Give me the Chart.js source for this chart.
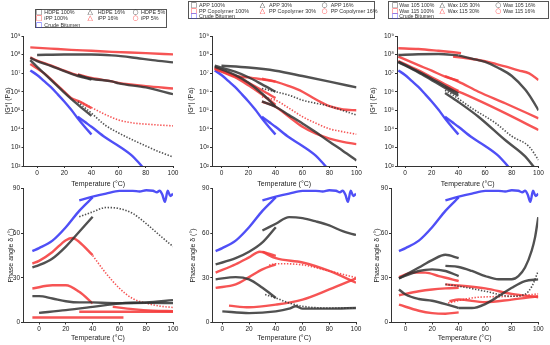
<!DOCTYPE html>
<html>
<head>
<meta charset="utf-8">
<script src="https://cdn.jsdelivr.net/npm/chart.js@4.4.0/dist/chart.umd.min.js"></script>
<style>
  body { margin: 0; background: #fff; }
  #wrap { position: relative; width: 550px; height: 345px; overflow: hidden; font-family: "Liberation Sans", Arial, sans-serif; }
  #wrap canvas { position: absolute; left: 0; top: 0; }
  .legend { position: absolute; border: 1px solid #555; box-sizing: border-box; background: #fff; }
  .legend span { position: absolute; white-space: nowrap; color: #333; }
  .legend .mk { font-family: "DejaVu Sans", sans-serif; }
</style>
</head>
<body>
<div id="wrap"></div>
<script>
// ---- tick labels / legend labels ----
const tempTicks = [0, 20, 40, 60, 80, 100];
const modulusTicks = [1e2, 1e3, 1e4, 1e5, 1e6, 1e7, 1e8, 1e9];
const phaseTicks = [0, 30, 60, 90];

const legendHdpe = ['HDPE 100%', 'HDPE 16%', 'HDPE 5%', 'iPP 100%', 'iPP 16%', 'iPP 5%', 'Crude Bitumen'];
const legendApp = ['APP 100%', 'APP 30%', 'APP 16%', 'PP Copolymer 100%', 'PP Copolymer 30%', 'PP Copolymer 16%', 'Crude Bitumen'];
const legendWax = ['Wax 105 100%', 'Wax 105 30%', 'Wax 105 16%', 'Wax 115 100%', 'Wax 115 30%', 'Wax 115 16%', 'Crude Bitumen'];

// ---- crude bitumen (same in every panel) : [temperature, value] ----
const crudeGLow = [[-5, 1.4e7], [0, 8e6], [5, 3.8e6], [10, 1.8e6], [15, 7.5e5], [20, 3e5], [25, 1.1e5], [30, 3.6e4], [35, 1.3e4], [40, 5e3]];
const crudeGHigh = [[30, 4.5e4], [35, 2.4e4], [40, 1.3e4], [50, 3.5e3], [60, 1.2e3], [70, 350], [77, 100], [80, 60]];
const crudeDLow = [[-5, 48], [0, 50], [10, 55], [20, 64], [30, 75], [40, 84]];
const crudeDHigh = [[30, 82], [40, 84.5], [50, 86.6], [60, 88.4], [70, 88.4], [75, 88], [80, 88.8], [85, 88.5], [88, 87.5], [90, 88.5], [92, 86], [94, 81], [96, 88.5], [98, 85], [100, 86.5]];

// ---- |G*| HDPE / iPP ----
const hdpe100G = [[0, 9.5e7], [20, 1e8], [40, 1e8], [55, 9e7], [70, 7e7], [85, 5e7], [100, 3.8e7]];
const ipp100G = [[-5, 2.45e8], [10, 2.1e8], [25, 1.8e8], [40, 1.6e8], [55, 1.4e8], [80, 1.2e8], [100, 1.02e8]];
const hdpe16GLow = [[-5, 6.6e7], [0, 4.5e7], [10, 2.5e7], [20, 1.3e7], [30, 7e6], [40, 4.5e6]];
const hdpe16GHigh = [[30, 8e6], [40, 5e6], [55, 3.6e6], [60, 2.8e6], [80, 1.7e6], [100, 7.4e5]];
const ipp16GLow = [[-5, 7e7], [0, 4.8e7], [10, 2.6e7], [20, 1.35e7], [30, 7.5e6], [40, 5e6]];
const ipp16GHigh = [[30, 8.5e6], [40, 5.5e6], [55, 3.6e6], [60, 3e6], [80, 2e6], [100, 1.5e6]];
const hdpe5GLow = [[-5, 5e7], [0, 2.2e7], [5, 1e7], [10, 4.5e6], [20, 9e5], [30, 2e5], [40, 5e4]];
const hdpe5GHigh = [[30, 2.8e5], [40, 7e4], [50, 1.6e4], [60, 6e3], [70, 2.6e3], [80, 1.2e3], [90, 575], [100, 310]];
const ipp5GLow = [[-5, 3.1e7], [5, 1e7], [13, 3e6], [20, 1e6], [25, 4.6e5], [31, 3e5], [40, 1.3e5]];
const ipp5GHigh = [[30, 3.2e5], [40, 1.4e5], [50, 6e4], [60, 3e4], [70, 2.1e4], [80, 1.8e4], [90, 1.6e4], [100, 1.45e4]];

// ---- |G*| APP / PP copolymer ----
const app100G = [[0, 2.5e7], [20, 2e7], [40, 1.35e7], [60, 7e6], [80, 3.5e6], [100, 1.7e6]];
const app30GLow = [[-5, 2.5e7], [10, 1.2e7], [20, 6e6], [30, 2.5e6], [40, 1e6]];
const app30GHigh = [[30, 1.5e6], [40, 1e6], [50, 6.5e5], [60, 3.5e5], [80, 1.66e5], [100, 5.5e4]];
const app16GLow = [[-5, 2.2e7], [10, 8e6], [20, 3e6], [30, 8e5], [40, 1.6e5]];
const app16GHigh = [[30, 3e5], [40, 1.55e5], [50, 5.5e4], [60, 1.95e4], [70, 6.5e3], [80, 2e3], [90, 650], [100, 200]];
const ppc100GLow = [[-5, 1.8e7], [0, 1.3e7], [10, 7e6], [20, 5.9e6], [30, 4.6e6], [40, 3.5e6]];
const ppc100GHigh = [[30, 5e6], [40, 3.5e6], [50, 2e6], [60, 1e6], [70, 3.8e5], [80, 1.66e5], [90, 1.1e5], [100, 1e5]];
const ppc30GLow = [[-5, 2e7], [10, 7e6], [20, 3e6], [30, 1.2e6], [40, 4.5e5]];
const ppc30GHigh = [[30, 5.4e5], [40, 3.5e5], [50, 1.3e5], [60, 4.5e4], [70, 2e4], [80, 1e4], [90, 7e3], [100, 5.1e3]];
const ppc16GLow = [[-5, 1.7e7], [10, 6e6], [20, 2.2e6], [30, 7e5], [40, 2e5]];
const ppc16GHigh = [[30, 2.9e5], [40, 1.55e5], [50, 4.5e4], [60, 1.3e4], [70, 5.5e3], [80, 3e3], [90, 2e3], [100, 1.5e3]];

// ---- |G*| waxes ----
const wax115x100GLow = [[-5, 2.2e8], [10, 2e8], [25, 1.6e8], [42, 1.2e8]];
const wax115x100GHigh = [[36, 7.8e7], [45, 6.5e7], [55, 5.1e7], [65, 3.6e7], [75, 2.3e7], [85, 1.4e7], [93, 9.8e6], [100, 4.3e6]];
const wax105x100GLow = [[-5, 9.5e7], [10, 1.05e8], [25, 1.07e8], [40, 9e7]];
const wax105x100GHigh = [[40, 9e7], [50, 6e7], [60, 4e7], [70, 1.9e7], [80, 7e6], [90, 1.3e6], [95, 4e5], [100, 1e5]];
const wax115x30GLow = [[-5, 7.8e7], [10, 2.7e7], [20, 1.35e7], [30, 6.5e6], [40, 4e6]];
const wax115x30GHigh = [[30, 7e6], [40, 3.5e6], [55, 1e6], [75, 2.4e5], [100, 3.7e4]];
const wax115x16GLow = [[-5, 4.5e7], [10, 1.4e7], [20, 6e6], [30, 2.5e6], [40, 1.1e6]];
const wax115x16GHigh = [[30, 1.8e6], [40, 1e6], [55, 3.4e5], [75, 7e4], [100, 8.7e3]];
const wax105x30GLow = [[-5, 4.2e7], [10, 1.2e7], [20, 5e6], [30, 2e6], [40, 8e5]];
const wax105x30GHigh = [[30, 1.2e6], [36, 6.6e5], [50, 1.3e5], [68, 2e4], [80, 4e3], [93, 1.1e3], [100, 210]];
const wax105x16GLow = [[-5, 3.9e7], [10, 1.1e7], [20, 4.2e6], [30, 1.6e6], [40, 6e5]];
const wax105x16GHigh = [[30, 8.5e5], [40, 2.8e5], [55, 4.5e4], [75, 2.5e3], [90, 330], [96, 100], [100, 50]];

// ---- phase angle HDPE / iPP ----
const hdpe5DLow = [[-5, 37], [0, 38.5], [10, 43], [20, 51], [30, 61], [40, 71]];
const hdpe5DHigh = [[30, 71], [40, 74.3], [50, 77.2], [60, 76.5], [70, 73.2], [80, 66.4], [90, 58.6], [100, 51]];
const ipp5DLow = [[-5, 39.6], [0, 41.4], [10, 47.4], [20, 55.3], [25, 56.8], [30, 54.1], [40, 45.2]];
const ipp5DHigh = [[40, 45], [50, 33], [60, 23], [70, 16], [80, 13], [90, 11], [100, 10.1]];
const ipp16DLow = [[-5, 22.8], [10, 25], [20, 25], [30, 20.6], [40, 12.8]];
const ipp16DHigh = [[55, 10.5], [70, 9], [85, 8], [100, 7.6]];
const hdpe16DLow = [[-5, 17.7], [0, 17.7], [10, 16.1], [20, 14.3], [30, 13.5], [40, 13.5]];
const hdpe16DHigh = [[40, 13.5], [60, 13], [80, 13.2], [100, 13]];
const hdpe100D = [[0, 6.5], [20, 8.3], [40, 10.5], [60, 12.8], [80, 13.5], [100, 15]];
const ipp100DLow = [[-5, 3.4], [20, 3.4], [40, 3.4], [63, 3.4]];
const ipp100DHigh = [[30, 7.2], [60, 7.2], [100, 7.2]];

// ---- phase angle APP / PP copolymer ----
const app16DLow = [[-5, 39], [10, 43.2], [20, 47.5], [30, 53.8], [40, 64]];
const app16DHigh = [[30, 61.8], [40, 66.3], [50, 70.8], [60, 70.1], [70, 67.9], [80, 65.2], [90, 61.3], [100, 58.8]];
const app30DLow = [[-5, 29], [10, 30.5], [20, 29], [30, 23.3], [40, 16.5]];
const app30DHigh = [[32, 18.8], [40, 16.5], [50, 13.1], [60, 10.9], [80, 9.7], [100, 9.7]];
const app100D = [[0, 7.5], [20, 6.3], [40, 7.5], [50, 9.3], [55, 10.9], [60, 9.3], [80, 9.3], [100, 9.7]];
const ppc16DLow = [[-5, 33.5], [10, 39.1], [20, 43.7], [28, 47.5], [40, 44.8]];
const ppc16DHigh = [[30, 47.5], [40, 43.2], [60, 40.3], [80, 34.6], [100, 26.7]];
const ppc30DLow = [[-5, 23.3], [10, 25.6], [20, 30.5], [30, 35.7], [40, 39.1]];
const ppc30DHigh = [[35, 38.5], [40, 39.5], [60, 38.7], [80, 34.6], [100, 30.1]];
const ppc100D = [[5, 11.3], [20, 10.2], [40, 12], [60, 15.4], [80, 22.2], [100, 29.6]];

// ---- phase angle waxes ----
const wax105x16DLow = [[-5, 29.6], [10, 36.9], [20, 41.9], [30, 45.5], [40, 43.2]];
const wax105x16DHigh = [[30, 38], [40, 37.3], [50, 34.6], [60, 31.2], [70, 29], [80, 29], [85, 31.2], [90, 36.9], [95, 48.2], [97.5, 57], [100, 70.8]];
const wax105x30DLow = [[-5, 29.6], [10, 34.6], [20, 35.7], [30, 34.6], [40, 31.2]];
const wax105x30DHigh = [[30, 25.6], [40, 24.4], [60, 21], [80, 17.6], [90, 19], [95, 24], [100, 34.6]];
const wax105x100DLow = [[-5, 22.2], [0, 18.8], [10, 15.8], [20, 14.6], [30, 12.4], [40, 9.7]];
const wax105x100DHigh = [[40, 9.7], [50, 9.7], [60, 12.4], [70, 17.6], [80, 23.3], [90, 27.8], [100, 29]];
const wax115x16DLow = [[-5, 30.5], [5, 33.5], [15, 33.5], [25, 31.2], [35, 29], [40, 27.8]];
const wax115x16DHigh = [[30, 25.6], [60, 22.9], [80, 19.2], [100, 17]];
const wax115x30DLow = [[-5, 18.3], [10, 21], [20, 22.2], [30, 22.9], [40, 23.3]];
const wax115x30DHigh = [[32, 13.1], [50, 16.5], [60, 17.2], [80, 17.6], [100, 19.2]];
const wax115x100DLow = [[-5, 12], [10, 7.9], [20, 6.3], [30, 5.9], [40, 6.8]];
const wax115x100DHigh = [[33, 14.3], [40, 15.4], [60, 13.6], [80, 15.4], [100, 17.6]];

// ---- styling ----
const BLACK = 'rgba(50,50,50,0.85)';
const RED = 'rgba(245,60,60,0.88)';
const BLUE = 'rgba(60,60,245,0.9)';
const AXIS = '#333';
const TXT = '#222';
Chart.defaults.font.family = '"Liberation Sans", Arial, sans-serif';

const sup = { '0': '⁰', '1': '¹', '2': '²', '3': '³', '4': '⁴', '5': '⁵', '6': '⁶', '7': '⁷', '8': '⁸', '9': '⁹' };
function powLabel(v) {
  const n = Math.round(Math.log10(v));
  return '10' + String(n).split('').map(c => sup[c]).join('');
}

function ds(arr, color, dotted) {
  return {
    data: arr.map(p => ({ x: p[0], y: p[1] })),
    borderColor: color,
    borderWidth: dotted ? 1.6 : 2.4,
    borderDash: dotted ? [1.4, 1.6] : [],
    pointRadius: 0,
    cubicInterpolationMode: 'monotone',
    fill: false
  };
}

const S = 0, D = 1; // solid / dotted
const panels = [
  { box: { L: 23.5, R: 173, T: 36, B: 166 }, xMin: -10, yW: 20, xH: 22, kind: 'G', series: [
    [hdpe100G, BLACK, S], [hdpe16GLow, BLACK, S], [hdpe16GHigh, BLACK, S], [hdpe5GLow, BLACK, S], [hdpe5GHigh, BLACK, D],
    [ipp100G, RED, S], [ipp16GLow, RED, S], [ipp16GHigh, RED, S], [ipp5GLow, RED, S], [ipp5GHigh, RED, D],
    [crudeGLow, BLUE, S], [crudeGHigh, BLUE, S]] },
  { box: { L: 212, R: 356.5, T: 36, B: 166 }, xMin: -7, yW: 25, xH: 22, kind: 'G', series: [
    [app100G, BLACK, S], [app30GLow, BLACK, S], [app30GHigh, BLACK, D], [app16GLow, BLACK, S], [app16GHigh, BLACK, S],
    [ppc100GLow, RED, S], [ppc100GHigh, RED, S], [ppc30GLow, RED, S], [ppc30GHigh, RED, D], [ppc16GLow, RED, S], [ppc16GHigh, RED, S],
    [crudeGLow, BLUE, S], [crudeGHigh, BLUE, S]] },
  { box: { L: 397, R: 538.5, T: 36, B: 166 }, xMin: -6, yW: 28, xH: 22, kind: 'G', series: [
    [wax105x100GLow, BLACK, S], [wax105x100GHigh, BLACK, S], [wax105x30GLow, BLACK, S], [wax105x30GHigh, BLACK, D], [wax105x16GLow, BLACK, S], [wax105x16GHigh, BLACK, S],
    [wax115x100GLow, RED, S], [wax115x100GHigh, RED, S], [wax115x30GLow, RED, S], [wax115x30GHigh, RED, S], [wax115x16GLow, RED, S], [wax115x16GHigh, RED, S],
    [crudeGLow, BLUE, S], [crudeGHigh, BLUE, S]] },
  { box: { L: 23, R: 173, T: 188.5, B: 322.5 }, xMin: -12, yW: 16.5, xH: 20, kind: 'D', series: [
    [hdpe100D, BLACK, S], [hdpe16DLow, BLACK, S], [hdpe16DHigh, BLACK, S], [hdpe5DLow, BLACK, S], [hdpe5DHigh, BLACK, D],
    [ipp100DLow, RED, S], [ipp100DHigh, RED, S], [ipp16DLow, RED, S], [ipp16DHigh, RED, S], [ipp5DLow, RED, S], [ipp5DHigh, RED, D],
    [crudeDLow, BLUE, S], [crudeDHigh, BLUE, S]] },
  { box: { L: 212.3, R: 356, T: 188.5, B: 322.5 }, xMin: -7.5, yW: 23, xH: 20, kind: 'D', series: [
    [app100D, BLACK, S], [app30DLow, BLACK, S], [app30DHigh, BLACK, D], [app16DLow, BLACK, S], [app16DHigh, BLACK, S],
    [ppc100D, RED, S], [ppc30DLow, RED, S], [ppc30DHigh, RED, D], [ppc16DLow, RED, S], [ppc16DHigh, RED, S],
    [crudeDLow, BLUE, S], [crudeDHigh, BLUE, S]] },
  { box: { L: 391, R: 538.3, T: 188.5, B: 322.5 }, xMin: -11, yW: 18.5, xH: 20, kind: 'D', series: [
    [wax105x100DLow, BLACK, S], [wax105x100DHigh, BLACK, S], [wax105x30DLow, BLACK, S], [wax105x30DHigh, BLACK, D], [wax105x16DLow, BLACK, S], [wax105x16DHigh, BLACK, S],
    [wax115x100DLow, RED, S], [wax115x100DHigh, RED, S], [wax115x30DLow, RED, S], [wax115x30DHigh, RED, D], [wax115x16DLow, RED, S], [wax115x16DHigh, RED, S],
    [crudeDLow, BLUE, S], [crudeDHigh, BLUE, S]] }
];

const wrap = document.getElementById('wrap');

function makeChart(p) {
  const c = document.createElement('canvas');
  c.width = 550; c.height = 345;
  wrap.appendChild(c);
  const isG = p.kind === 'G';
  const axisCommon = {
    grid: { drawOnChartArea: false, tickLength: 2, color: AXIS },
    border: { color: AXIS, width: 1 }
  };
  new Chart(c, {
    type: 'line',
    data: { datasets: p.series.map(s => ds(s[0], s[1], s[2] === D)) },
    options: {
      responsive: false,
      animation: false,
      devicePixelRatio: 1,
      layout: { padding: { left: p.box.L - p.yW, top: p.box.T, right: 550 - p.box.R, bottom: 345 - p.box.B - p.xH } },
      plugins: { legend: { display: false }, tooltip: { enabled: false } },
      scales: {
        x: Object.assign({
          type: 'linear', min: p.xMin, max: 100,
          afterBuildTicks: s => { s.ticks = tempTicks.map(v => ({ value: v })); },
          afterFit: s => { s.height = p.xH; },
          ticks: { color: TXT, font: { size: 6.5 }, padding: 1, maxRotation: 0, autoSkip: false },
          title: { display: true, text: 'Temperature (°C)', color: TXT, font: { size: 7 }, padding: 0 }
        }, axisCommon),
        y: Object.assign({
          type: isG ? 'logarithmic' : 'linear',
          min: isG ? 1e2 : 0,
          max: isG ? 1e9 : 90,
          afterBuildTicks: s => { s.ticks = (isG ? modulusTicks : phaseTicks).map(v => ({ value: v })); },
          afterFit: s => { s.width = p.yW; },
          ticks: { color: TXT, font: { size: 6.5 }, padding: 1, autoSkip: false, callback: v => isG ? powLabel(v) : String(v) },
          title: { display: true, text: isG ? '|G*| (Pa)' : 'Phase angle δ (°)', color: TXT, font: { size: 7 }, padding: 0 }
        }, axisCommon)
      }
    }
  });
}
panels.forEach(makeChart);

// ---- legends (HTML boxes above the top row) ----
const legendBoxes = [
  { labels: legendHdpe, left: 35, top: 9, width: 132, height: 19, mk: [2.3, 54, 99], tx: [8.3, 61.7, 105], rows: [2.7, 8.7, 15], fs: 5.4 },
  { labels: legendApp, left: 188, top: 1, width: 187, height: 18, mk: [4, 73.3, 135], tx: [10, 80, 141.7], rows: [3, 9, 14.7], fs: 5.4 },
  { labels: legendWax, left: 387.7, top: 1, width: 161, height: 18, mk: [5.6, 53.3, 109], tx: [10.6, 59, 114.6], rows: [3, 9, 14.7], fs: 5.2 }
];
const markers = ['□', '△', '○'];
const markerColors = ['#333', '#f33', '#33f'];
legendBoxes.forEach(lb => {
  const box = document.createElement('div');
  box.className = 'legend';
  Object.assign(box.style, { left: lb.left + 'px', top: lb.top + 'px', width: lb.width + 'px', height: lb.height + 'px' });
  lb.labels.forEach((text, i) => {
    const row = Math.floor(i / 3), col = i % 3;
    const m = document.createElement('span');
    m.className = 'mk';
    m.textContent = markers[col];
    Object.assign(m.style, { left: (lb.mk[col] - 2.5) + 'px', top: (lb.rows[row] - 4.5) + 'px', fontSize: '7px', lineHeight: '8px', color: markerColors[row] });
    box.appendChild(m);
    const t = document.createElement('span');
    t.textContent = text;
    Object.assign(t.style, { left: lb.tx[col] + 'px', top: (lb.rows[row] - 3.5) + 'px', fontSize: lb.fs + 'px', lineHeight: '7px' });
    box.appendChild(t);
  });
  wrap.appendChild(box);
});
</script>
</body>
</html>
